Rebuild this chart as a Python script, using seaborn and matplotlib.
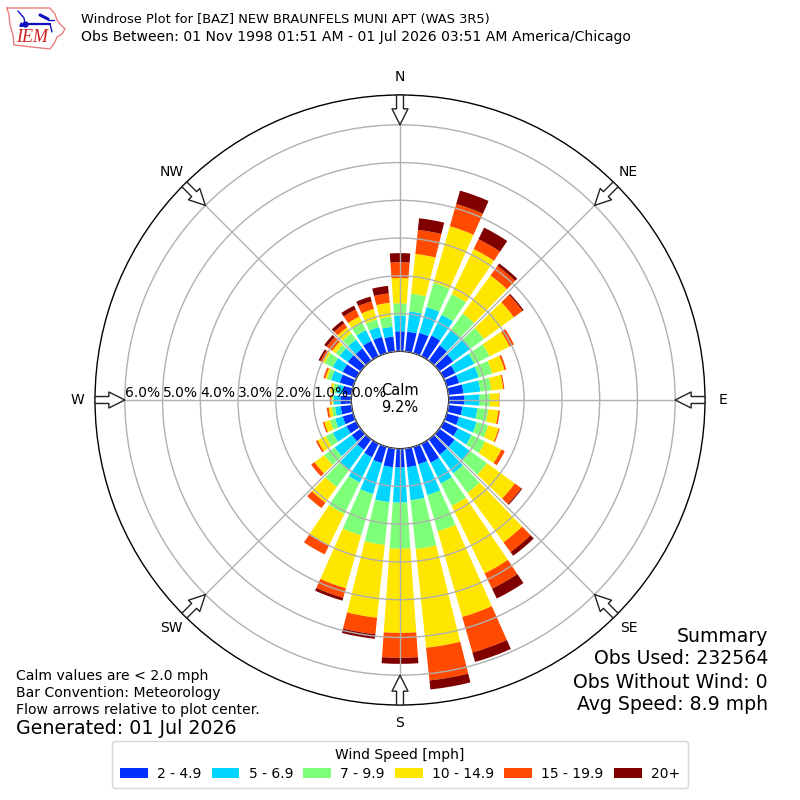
import numpy as np
import pandas as pd
import matplotlib
matplotlib.use("Agg")
import matplotlib.pyplot as plt
from matplotlib.patches import Patch
import seaborn as sns

directions = list(range(0, 360, 10))
band_labels = ["2 - 4.9", "5 - 6.9", "7 - 9.9", "10 - 14.9", "15 - 19.9", "20+"]
band_colors = ["#0031ff", "#00d5ff", "#7dff7a", "#ffe600", "#ff4a00", "#800000"]

# cumulative frequency [%] up to the top of each speed band
upto_4_9 = [.53,.53,.56,.61,.50,.45,.34,.34,.40,.42,.37,.34,.42,.50,.50,.56,.48,.50,.50,.50,.45,.40,.34,.29,.29,.29,.29,.29,.24,.37,.40,.42,.40,.45,.45,.40]
upto_6_9 = [.95,1.07,1.27,1.22,1.01,1.03,.90,.88,.85,.82,.77,.82,.82,1.01,1.11,1.17,1.33,1.38,1.43,1.43,1.30,1.14,1.01,.85,.69,.50,.44,.47,.40,.61,.69,.69,.69,.77,.72,.66]
upto_9_9 = [1.27,1.54,1.94,1.83,1.54,1.46,1.35,1.25,1.14,1.09,1.06,1.14,1.22,1.56,1.75,1.83,2.33,2.68,2.65,2.57,2.44,2.07,1.56,1.19,.90,.64,.53,.50,.50,.72,.93,.82,.90,.98,.93,.93]
upto_14_9 = [1.94,2.60,3.50,3.16,2.79,2.44,1.94,1.59,1.46,1.34,1.33,1.43,1.70,2.47,3.37,3.82,4.69,5.31,4.88,4.51,3.90,3.00,2.07,1.51,1.14,.80,.61,.53,.56,.77,1.01,.93,1.09,1.17,1.22,1.30]
upto_19_9 = [2.36,3.24,4.11,3.45,3.10,2.72,2.07,1.64,1.49,1.35,1.37,1.46,1.80,2.68,3.69,4.27,5.67,6.18,5.54,4.95,4.16,3.26,2.25,1.62,1.19,.84,.66,.56,.57,.82,1.06,1.11,1.22,1.38,1.43,1.55]
upto_all = [2.60,3.55,4.48,3.79,3.18,2.76,2.07,1.64,1.49,1.35,1.37,1.46,1.80,2.71,3.81,4.56,5.93,6.42,5.70,5.07,4.24,3.26,2.25,1.62,1.19,.84,.66,.56,.57,.82,1.11,1.19,1.31,1.49,1.56,1.75]
cumulative = [upto_4_9, upto_6_9, upto_9_9, upto_14_9, upto_19_9, upto_all]

compass_labels = ["N", "NE", "E", "SE", "S", "SW", "W", "NW"]
compass_degrees = [0, 45, 90, 135, 180, 225, 270, 315]
radial_ticks = [0, 1, 2, 3, 4, 5, 6]
radial_labels = ["0.0%", "1.0%", "2.0%", "3.0%", "4.0%", "5.0%", "6.0%"]

sns.set_theme(style="white", font="DejaVu Sans", rc={
    "text.color": "black", "xtick.color": "black", "ytick.color": "black",
    "axes.labelcolor": "black", "axes.edgecolor": "black"})

fig = plt.figure(figsize=(8, 8), dpi=100)
ax = fig.add_axes([95 / 800, 95 / 800, 610 / 800, 610 / 800], projection="polar")
ax.set_theta_zero_location("N")
ax.set_theta_direction(-1)

theta = np.deg2rad(directions)
previous = np.zeros(len(directions))
for values, color in zip(cumulative, band_colors):
    top = np.array(values)
    frame = pd.DataFrame({"theta": theta, "freq": top - previous})
    sns.barplot(data=frame, x="theta", y="freq", native_scale=True, color=color,
                saturation=1, width=0.8, errorbar=None, edgecolor="none",
                linewidth=0, bottom=previous, ax=ax)
    previous = top

ax.set_xlabel("")
ax.set_ylabel("")
ax.set_xlim(0, 2 * np.pi)
rmax = 6.79
ax.set_ylim(0, rmax)
ax.set_rorigin(-1.29)
ax.set_axisbelow(False)
ax.set_xticks(np.deg2rad(compass_degrees))
ax.set_xticklabels(compass_labels, fontsize=10)
ax.tick_params(axis="x", pad=0)
ax.set_yticks(radial_ticks)
ax.set_yticklabels([])
ax.grid(True, color="#b0b0b0", linewidth=1.0)
for s in ax.spines.values():
    s.set_linewidth(1.0)
    s.set_color("black")

for val, lab in zip(radial_ticks, radial_labels):
    ax.text(np.deg2rad(270), val, lab, fontsize=10, ha="left", va="bottom",
            transform=ax.transData, rotation=0, clip_on=False)

for deg in compass_degrees:
    t = np.deg2rad(deg)
    ax.annotate("", xy=(t, 6.0), xytext=(t, rmax),
                arrowprops=dict(facecolor="white", edgecolor="#222222", linewidth=1.0,
                                width=5, headwidth=11.5, headlength=11.5, shrink=0),
                annotation_clip=False)

fig.text(400 / 800, 1 - 399 / 800, "Calm\n9.2%", ha="center", va="center", fontsize=10.5, linespacing=1.15)

fig.text(81 / 800, 1 - 19 / 800, "Windrose Plot for [BAZ] NEW BRAUNFELS MUNI APT (WAS 3R5)",
         fontsize=9.4, va="center", ha="left")
fig.text(81 / 800, 1 - 37 / 800, "Obs Between: 01 Nov 1998 01:51 AM - 01 Jul 2026 03:51 AM America/Chicago",
         fontsize=10.05, va="center", ha="left")

for y, line in zip([636, 659, 682, 705], ["Summary", "Obs Used: 232564", "Obs Without Wind: 0", "Avg Speed: 8.9 mph"]):
    fig.text(768 / 800, 1 - y / 800, line, fontsize=13.6, ha="right", va="center")
for y, line in zip([676, 693, 710], ["Calm values are < 2.0 mph", "Bar Convention: Meteorology", "Flow arrows relative to plot center."]):
    fig.text(16 / 800, 1 - y / 800, line, fontsize=10.1, ha="left", va="center")
fig.text(16 / 800, 1 - 729 / 800, "Generated: 01 Jul 2026", fontsize=13.7, ha="left", va="center")

handles = [Patch(facecolor=c, edgecolor="none") for c in band_colors]
leg = fig.legend(handles, band_labels, title="Wind Speed [mph]", ncol=6, loc="center",
                 bbox_to_anchor=(400 / 800, 1 - 764.5 / 800), fontsize=10, title_fontsize=10,
                 frameon=True, handlelength=2, handletextpad=0.65, columnspacing=0.75,
                 labelspacing=0.3, borderpad=0.55)
leg.get_frame().set_edgecolor("#cccccc")
leg.get_frame().set_facecolor("white")

# IEM logo
logo = fig.add_axes([0, 0, 1, 1], facecolor="none", zorder=5)
logo.set_xlim(0, 800)
logo.set_ylim(800, 0)
logo.axis("off")
iowa_x = [7, 50, 55, 57, 60, 65, 62, 57, 55, 53, 50, 14, 13, 10, 9, 7]
iowa_y = [8, 8, 14, 20, 24, 29, 34, 37, 42, 45, 49, 45, 35, 25, 15, 8]
logo.plot(iowa_x, iowa_y, color="#e88080", lw=1)
logo.plot([25, 50], [24, 24], color="#1010c0", lw=1.6)
logo.plot([18, 24, 25], [11, 18, 24], color="#1010c0", lw=1)
logo.plot([25], [24], marker="o", ms=3.5, color="#1010c0")
logo.plot([40, 48], [15, 19], color="#1010c0", lw=2.2)
logo.plot([48, 54], [20, 20], color="#1010c0", lw=1)
logo.plot([50, 52], [24, 32], color="#1010c0", lw=1)
logo.plot([21], [24], marker="^", ms=2.5, color="#1010c0")
logo.text(16, 38, "IEM", family="Liberation Serif", style="italic", fontsize=13,
          color="#d02020", ha="left", va="center")

fig.savefig("out.png", dpi=100)
